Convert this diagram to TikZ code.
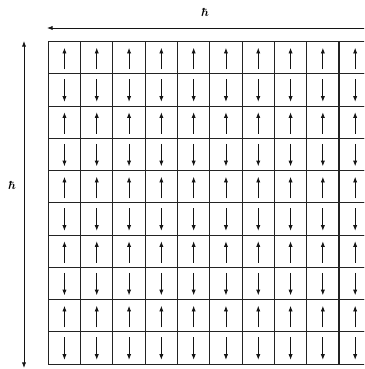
\documentclass[tikz,border=0pt]{standalone}
\usepackage{amsmath}
\usepackage{bm}
\usepackage{xcolor}
\usepackage{tikz}
\usetikzlibrary{positioning, calc, arrows.meta}
\definecolor{gridcolor}{RGB}{35,35,35}
\definecolor{spincolor}{RGB}{20,20,20}
\tikzset{
  cellline/.style={draw=gridcolor, line width=0.9pt},
  spin/.style={-{Latex[length=4.8pt,width=3.6pt]}, line width=0.7pt, spincolor},
  dimline/.style={{Latex[length=4.8pt,width=3.6pt]}-{Latex[length=4.8pt,width=3.6pt]},
                  line width=0.7pt, spincolor},
  dimlabel/.style={font=\normalsize, inner sep=1pt},
}

\begin{document}
\begin{tikzpicture}[x=0.03cm, y=-0.03cm]

\useasboundingbox (0,0) rectangle (364,369);
\clip (0,0) rectangle (364,369);

%% ── lattice of 10 x 10 cells ─────────────────────────────────────
\foreach \col in {0,...,9}
  \foreach \row in {0,...,9}
    \draw[cellline] ({48.3+32.3*\col},{41.7+32.25*\row}) rectangle ++(32.3,32.25);

%% ── spins: up on odd rows, down on even rows ─────────────────────
\foreach \col in {0,...,9}
  \foreach \row in {0,2,...,8} {
    \draw[spin] ({64.45+32.3*\col},{69.3+32.25*\row}) -- ++(0,-21.5);
    \draw[spin] ({64.45+32.3*\col},{79.3+32.25*\row}) -- ++(0,22.5);
  }

%% ── size markers ─────────────────────────────────────────────────
\coordinate (htopL) at (47,28);
\coordinate (htopR) at (380,28);
\coordinate (vleftT) at (24,41);
\coordinate (vleftB) at (24,368);

\draw[dimline] (htopL) -- (htopR);
\draw[dimline] (vleftT) -- (vleftB);

\node[dimlabel] (hlabel) at (205,12) {$\bm{\hbar}$};
\node[dimlabel] (vlabel) at (12,185) {$\bm{\hbar}$};

\end{tikzpicture}
\end{document}
